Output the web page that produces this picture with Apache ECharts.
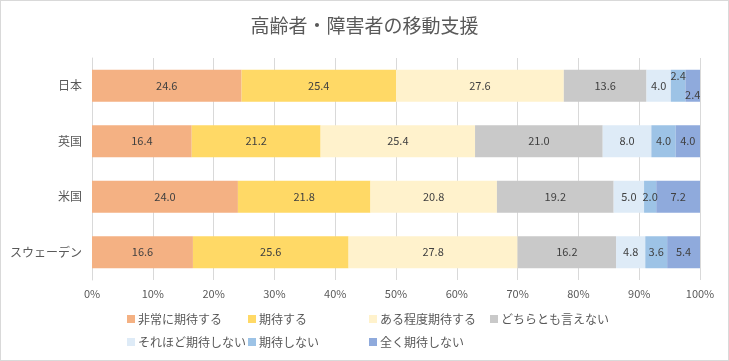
<!DOCTYPE html>
<html><head><meta charset="utf-8">
<script src="https://cdn.jsdelivr.net/npm/echarts@6/dist/echarts.min.js"></script>
<style>
html,body{margin:0;padding:0;background:#fff;}
#c{width:727px;height:359px;border:1px solid #d9d9d9;}
</style></head>
<body><div id="c"></div>
<script>
const categories = ['日本','英国','米国','スウェーデン'];
const seriesNames = ['非常に期待する','期待する','ある程度期待する','どちらとも言えない','それほど期待しない','期待しない','全く期待しない'];
const s1 = [24.6, 16.4, 24.0, 16.6];
const s2 = [25.4, 21.2, 21.8, 25.6];
const s3 = [27.6, 25.4, 20.8, 27.8];
const s4 = [13.6, 21.0, 19.2, 16.2];
const s5 = [4.0, 8.0, 5.0, 4.8];
const s6 = [2.4, 4.0, 2.0, 3.6];
const s7 = [2.4, 4.0, 7.2, 5.4];
const xTicks = [0,10,20,30,40,50,60,70,80,90,100];
const values = [s1,s2,s3,s4,s5,s6,s7];
const colors = ['#F4B183','#FFD966','#FFF2CC','#C9C9C9','#DEEBF7','#9DC3E6','#8FAADC'];
const font = '"Noto Sans CJK JP", "Noto Sans", sans-serif';

const chart = echarts.init(document.getElementById('c'), null, {renderer:'canvas'});
const series = values.map((arr, si) => ({
  name: seriesNames[si],
  type: 'bar',
  stack: 'total',
  barWidth: 32,
  itemStyle: {color: colors[si]},
  label: {show: true, position: 'inside', color: '#404040', fontSize: 11, fontFamily: font,
          formatter: p => p.value.toFixed(1)},
  data: arr.map((v, ci) => {
    const d = {value: v};
    if (ci === 0 && si === 5) d.label = {offset: [0, -10]};
    if (ci === 0 && si === 6) d.label = {offset: [0, 9]};
    return d;
  })
}));

const legendPos = [[126,312],[247,312],[368,312],[489,312],[126,335],[247,335],[368,335]];
const legends = seriesNames.map((n, i) => ({
  data: [n], left: legendPos[i][0], top: legendPos[i][1], padding: 0,
  itemWidth: 8, itemHeight: 8, icon: 'rect', itemGap: 0,
  textStyle: {color: '#595959', fontSize: 12, fontFamily: font, padding: [0,0,0,-2]}
}));

chart.setOption({
  animation: false,
  title: {text: '高齢者・障害者の移動支援', left: 'center', top: 10,
          textStyle: {color: '#595959', fontSize: 19, fontWeight: 'normal', fontFamily: font}},
  legend: legends,
  grid: {left: 91, right: 28, top: 57, bottom: 80},
  xAxis: {type: 'value', min: 0, max: 100, interval: 10,
    axisLabel: {formatter: v => xTicks.includes(v) ? v + '%' : '', color: '#595959', fontSize: 11, fontFamily: font, margin: 8},
    splitLine: {lineStyle: {color: '#d9d9d9'}},
    axisLine: {show: false}, axisTick: {show: false}},
  yAxis: {type: 'category', data: categories, inverse: true,
    axisLabel: {color: '#595959', fontSize: 12, fontFamily: font, margin: 10},
    axisLine: {lineStyle: {color: '#d9d9d9'}}, axisTick: {show: false}},
  series: series
});
</script></body></html>
